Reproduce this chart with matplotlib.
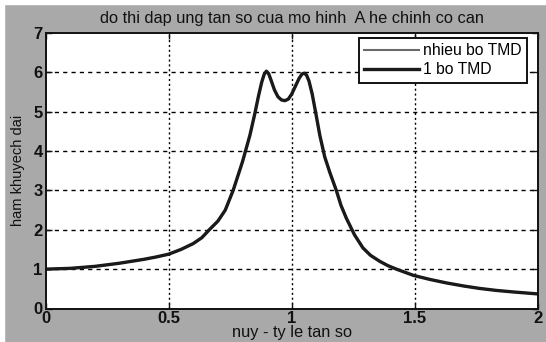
import matplotlib
matplotlib.use("Agg")
import matplotlib.pyplot as plt

plt.rcParams["font.family"] = ["Liberation Sans", "DejaVu Sans"]

# curve (both legend entries overlap)
nuy = [0.0, 0.1, 0.2, 0.3, 0.4, 0.45, 0.5, 0.55, 0.6, 0.635, 0.665, 0.7,
       0.73, 0.762, 0.8, 0.83, 0.85, 0.865, 0.878, 0.888, 0.897, 0.906,
       0.916, 0.93, 0.944, 0.958, 0.972, 0.986, 1.0, 1.015, 1.03, 1.042,
       1.051, 1.06, 1.07, 1.083, 1.098, 1.114, 1.134, 1.155, 1.181, 1.2,
       1.222, 1.255, 1.289, 1.32, 1.357, 1.39, 1.425, 1.495, 1.56, 1.628,
       1.7, 1.763, 1.83, 1.9, 2.0]
amp = [1.0, 1.02, 1.07, 1.15, 1.25, 1.31, 1.38, 1.5, 1.65, 1.8, 2.0, 2.22,
       2.5, 3.0, 3.73, 4.4, 4.95, 5.4, 5.75, 5.95, 6.03, 5.97,
       5.8, 5.55, 5.38, 5.3, 5.28, 5.32, 5.45, 5.65, 5.85, 5.96,
       5.98, 5.93, 5.78, 5.45, 4.95, 4.4, 3.85, 3.45, 3.0, 2.62,
       2.29, 1.87, 1.54, 1.35, 1.2, 1.09, 1.0, 0.84, 0.74, 0.65,
       0.57, 0.51, 0.46, 0.42, 0.37]
series_names = ["nhieu bo TMD", "1 bo TMD"]

fig = plt.figure(figsize=(5.46, 3.42), dpi=100)
fig.patch.set_facecolor("#a9a9a9")
# thin white strips at top/left of the screenshot
fig.add_artist(plt.Rectangle((0, 0), 4 / 546, 1, transform=fig.transFigure,
                             color="white", zorder=-1))
fig.add_artist(plt.Rectangle((0, 1 - 4 / 342), 1, 4 / 342,
                             transform=fig.transFigure, color="white", zorder=-1))

ax = fig.add_axes([45.5 / 546, (342 - 308.5) / 342, 492.5 / 546, 275.5 / 342])
ax.set_facecolor("white")

ax.plot(nuy, amp, color="#6a6a6a", lw=1.5, label=series_names[0])
ax.plot(nuy, amp, color="#1a1a1a", lw=2.4, label=series_names[1],
        solid_joinstyle="round")

ax.set_xlim(0, 2)
ax.set_ylim(0, 7)
ax.set_xticks([0, 0.5, 1, 1.5, 2])
ax.set_xticklabels(["0", "0.5", "1", "1.5", "2"])
ax.set_yticks(range(8))

for x in [0.5, 1, 1.5]:
    ax.axvline(x, color="black", lw=1, ls=(0, (1.5, 2)), zorder=0)
for y in range(1, 7):
    ax.axhline(y, color="black", lw=1, ls=(0, (3, 3)), zorder=0)

ax.tick_params(direction="in", length=4, width=1, labelsize=12,
               colors="#111111", pad=2, top=True, right=True)
for lab in ax.get_xticklabels() + ax.get_yticklabels():
    lab.set_fontweight("bold")
for s in ax.spines.values():
    s.set_linewidth(1.4)
    s.set_color("#111111")

ax.set_title("do thi dap ung tan so cua mo hinh  A he chinh co can",
             fontsize=11.8, color="#111111", pad=7)
ax.set_xlabel("nuy - ty le tan so", fontsize=11.8, color="#111111", labelpad=-1)
ax.set_ylabel("ham khuyech dai", fontsize=10.5, color="#111111", labelpad=6)

leg = ax.legend(loc="upper right", fontsize=11.3, frameon=True, fancybox=False,
                edgecolor="#111111", bbox_to_anchor=(0.988, 1),
                borderaxespad=0.3, handlelength=3.5,
                handletextpad=0.25, labelspacing=0.25, borderpad=0.35)
leg.get_frame().set_linewidth(1.4)
leg.get_frame().set_alpha(1)

fig.savefig("out.png", dpi=100, facecolor=fig.get_facecolor())
